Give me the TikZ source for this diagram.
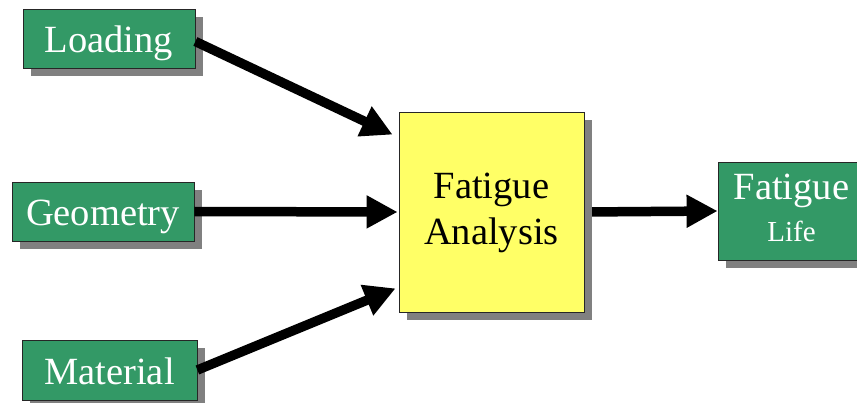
\documentclass[tikz,border=0pt]{standalone}
\usepackage{fontspec}
\setmainfont{Liberation Serif}
\usetikzlibrary{arrows.meta,shadows,backgrounds}
\definecolor{boxgreen}{HTML}{339966}
\definecolor{boxyellow}{HTML}{FFFF66}
\definecolor{shadowgray}{HTML}{808080}
\tikzset{
  box/.style={rectangle, draw=black!85, line width=0.8pt, inner sep=0pt,
    drop shadow={shadow xshift=8pt, shadow yshift=-8pt, fill=shadowgray, opacity=1},
    font=\fontsize{38.5}{46}\selectfont},
  inbox/.style={box, fill=boxgreen, text=white},
  single/.style={text height=35pt, text depth=6pt},
  mainbox/.style={box, fill=boxyellow, text=black},
  flow/.style={line width=9.5pt, draw=black,
    -{Triangle[length=31pt,width=31pt]}}
}
\begin{document}
\begin{tikzpicture}[x=1pt,y=1pt]
\useasboundingbox (0,0) rectangle (857,402);

% input boxes
\node[inbox, single, minimum width=172pt, minimum height=59pt] (load) at (109,363.5) {Loading};
\node[inbox, single, minimum width=182pt, minimum height=59pt] (geom) at (103,190.5) {Geometry};
\node[inbox, single, minimum width=175pt, minimum height=60pt] (mat) at (109.5,32) {Material};

% analysis and result
\node[mainbox, minimum width=185pt, minimum height=200pt] (fa) at (491.5,190)
  {\raisebox{-4pt}{\begin{tabular}{@{}c@{}}Fatigue\\Analysis\end{tabular}}};
\node[inbox, minimum width=147pt, minimum height=98pt] (life) at (791.5,191)
  {\raisebox{-6pt}{\begin{tabular}{@{}c@{}}Fatigue\\[-4pt]{\fontsize{29}{34}\selectfont Life}\end{tabular}}};

% input arrows
\draw[flow] ([yshift=-3pt]load.east) -- ([shift={(-6pt,-23pt)}]fa.north west);
\draw[flow] (geom.east) -- ([xshift=-1pt]fa.west);
\draw[flow] (mat.east) -- ([shift={(-3pt,24pt)}]fa.south west);

% output arrow, passing behind the shadow
\begin{scope}[on background layer]
\draw[flow] (fa.east) -- (life.west);
\end{scope}
\end{tikzpicture}
\end{document}
